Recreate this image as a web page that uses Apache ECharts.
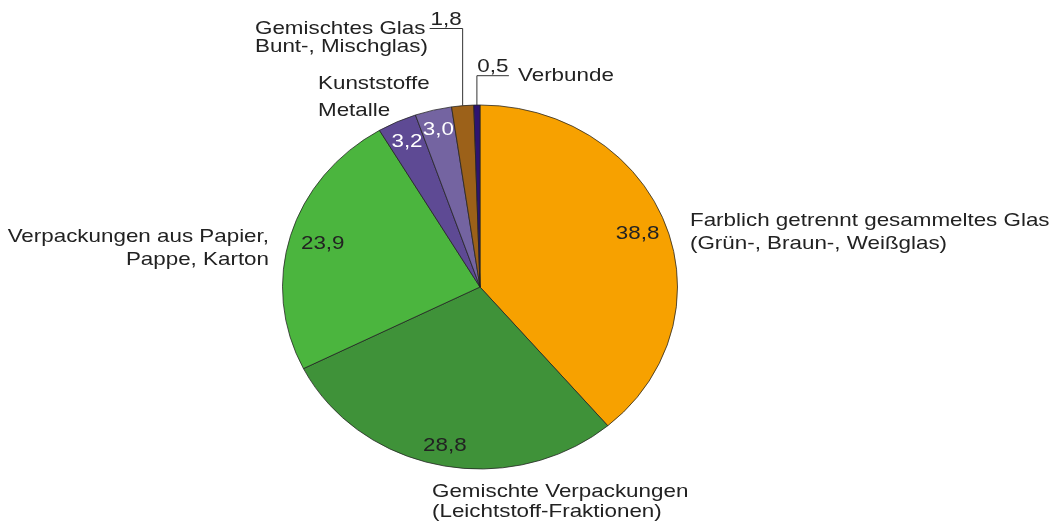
<!DOCTYPE html>
<html style="height: 100%">

<head>
  <meta charset="utf-8">
  <script type="text/javascript" src="https://cdn.jsdelivr.net/npm/echarts@6/dist/echarts.min.js"></script>
</head>

<body style="height: 100%; margin: 0; background: #fff">
  <div id="container" style="width: 1056px; height: 522px"></div>
  <script type="text/javascript">
    // Anteile der Fraktionen (Prozent), im Uhrzeigersinn ab 12 Uhr
    var categories = [
      'Farblich getrennt gesammeltes Glas\n(Grün-, Braun-, Weißglas)',
      'Gemischte Verpackungen\n(Leichtstoff-Fraktionen)',
      'Verpackungen aus Papier,\nPappe, Karton',
      'Kunststoffe',
      'Metalle',
      'Gemischtes Glas\nBunt-, Mischglas)',
      'Verbunde'
    ];
    var values = [38.8, 28.8, 23.9, 3.2, 3.0, 1.8, 0.5];
    var colors = ['#f7a100', '#3f9239', '#4bb53e', '#5e4a94', '#7464a1', '#9c6119', '#2e1470'];

    // Lage der Beschriftungen (nur Layout)
    var nameLayout = [
      { x: 690, y: 221, align: 'left', gap: 22.5 },
      { x: 432, y: 492, align: 'left', gap: 19.5 },
      { x: 269, y: 237, align: 'right', gap: 22.5 },
      { x: 318, y: 84, align: 'left', gap: 0 },
      { x: 318, y: 111, align: 'left', gap: 0 },
      { x: 255, y: 28.5, align: 'left', gap: 18 },
      { x: 518, y: 75.5, align: 'left', gap: 0 }
    ];
    // innen: Radiusanteil; aussen: Knick der Fuehrungslinie
    var valueLayout = [
      { f: 0.85, color: '#222' },
      { f: 0.89, color: '#222' },
      { f: 0.83, color: '#222' },
      { f: 0.88, color: '#ffffff' },
      { f: 0.89, color: '#ffffff' },
      { elbowY: 28.5, len: -33 },
      { elbowY: 75.7, len: 32 }
    ];

    var CX = 480, CY = 287, RX = 197.5, RY = 182;
    var SX = 1.21;  // Schrift ist im Original horizontal gedehnt
    var FONT = '"Liberation Sans", Arial, sans-serif';
    var total = values.reduce(function (a, b) { return a + b; }, 0);

    function txt(text, x, y, align, color) {
      return {
        type: 'text', x: x, y: y, scaleX: SX,
        style: {
          text: text, fill: color || '#222', fontSize: 18.5, fontFamily: FONT,
          align: align, verticalAlign: 'middle'
        }
      };
    }

    function renderItem(params, api) {
      var i = params.dataIndex;
      var cum = 0;
      for (var k = 0; k < i; k++) cum += values[k];
      var a0 = -Math.PI / 2 + 2 * Math.PI * cum / total;
      var a1 = -Math.PI / 2 + 2 * Math.PI * (cum + values[i]) / total;
      var mid = (a0 + a1) / 2;
      var children = [{
        type: 'sector', x: CX, y: CY, scaleY: RY / RX,
        shape: { cx: 0, cy: 0, r0: 0, r: RX, startAngle: a0, endAngle: a1, clockwise: true },
        style: { fill: colors[i], stroke: '#222', lineWidth: 0.8, strokeNoScale: true }
      }];
      var label = values[i].toFixed(1).replace('.', ',');
      var vl = valueLayout[i];
      if (vl.f) {
        children.push(txt(label, CX + RX * vl.f * Math.cos(mid), CY + RY * vl.f * Math.sin(mid), 'center', vl.color));
      } else {
        var ex = CX + RX * Math.cos(mid), ey = CY + RY * Math.sin(mid);
        children.push({
          type: 'polyline',
          shape: { points: [[ex, ey], [ex, vl.elbowY], [ex + vl.len, vl.elbowY]] },
          style: { stroke: '#333', lineWidth: 1, fill: null }
        });
        children.push(txt(label, ex + vl.len / 2, vl.elbowY - 9, 'center'));
      }
      var nl = nameLayout[i];
      categories[i].split('\n').forEach(function (line, j) {
        children.push(txt(line, nl.x, nl.y + j * nl.gap, nl.align));
      });
      return { type: 'group', children: children };
    }

    var dom = document.getElementById('container');
    var myChart = echarts.init(dom);
    var option = {
      backgroundColor: '#ffffff',
      animation: false,
      series: [{
        type: 'custom',
        coordinateSystem: 'none',
        renderItem: renderItem,
        data: values.map(function (v, i) { return [i, v]; })
      }]
    };
    myChart.setOption(option);
  </script>
</body>

</html>
